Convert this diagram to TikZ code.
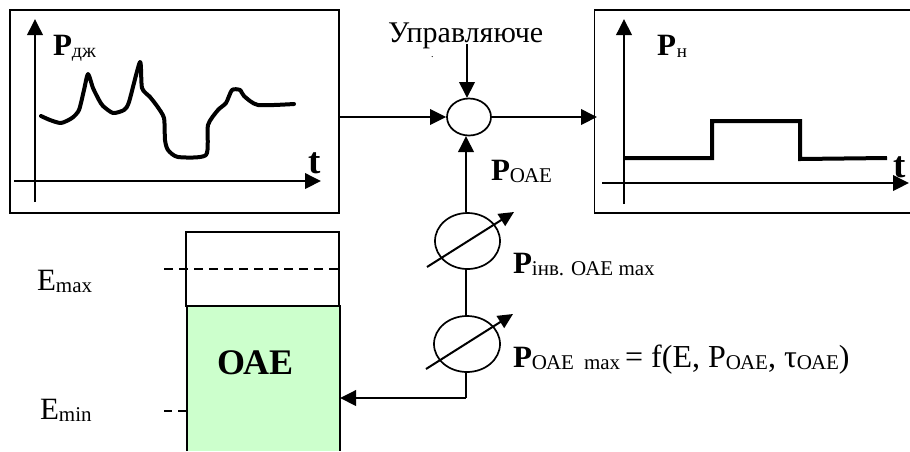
\documentclass[tikz,border=0pt]{standalone}
\usepackage{fontspec}
\setmainfont{Liberation Serif}
\usetikzlibrary{arrows.meta,shapes.geometric}
\definecolor{oaegreen}{HTML}{CCFFCC}
\newcommand{\fsz}[1]{\fontsize{#1}{#1}\selectfont}
\newcommand{\bigP}{{\fsz{31}\bfseries P}}
\newcommand{\sbs}[1]{{\fsz{21}\raisebox{-2pt}{#1}}}
\tikzset{
  frame/.style={draw=black,line width=1.7pt},
  axisline/.style={line width=2pt,-{Triangle[length=16pt,width=15.5pt]}},
  conn/.style={line width=2pt,-{Triangle[length=16pt,width=15.5pt]}},
  plain/.style={line width=1.8pt},
  trace/.style={line width=4pt,line join=round,line cap=round},
  knot/.style={draw,ellipse,line width=1.7pt,inner sep=0pt,fill=white},
  adjust/.style={line width=2pt,-{Triangle[length=15pt,width=14pt]}},
  txt/.style={anchor=base west,inner sep=0pt,outer sep=0pt},
  anchorpt/.style={inner sep=0pt,outer sep=0pt,minimum size=0pt}
}
\begin{document}
\begin{tikzpicture}[x=1pt,y=-1pt]
\useasboundingbox (0,0) rectangle (910,451);
% boxes
\node[anchorpt,frame,minimum width=329pt,minimum height=203pt,anchor=north west] (src) at (10,10) {};
\draw[frame] (910,10) -- (594.5,10) -- (594.5,213) -- (910,213);
\coordinate (loadin) at (597,117);
% left chart
\draw[axisline] (35,202) -- (35,19);
\draw[axisline] (14,181) -- (321,181);
\draw[trace] plot[smooth,tension=0.4] coordinates {(41,116) (50,120) (61,123) (72,118) (79,110) (84,90) (88,74) (93,88) (99,100) (103,106) (113,113) (124,110) (129,102) (140,62) (142,88) (150,97) (157,106) (164,118) (165,140) (168,150) (178,157) (206,155) (208,125) (218,110) (226,103) (232,90) (240,90) (244,96) (258,105) (294,104)};
\node[txt] (pdj) at (53,55) {\bigP\sbs{\fsz{20}дж}};
\node[txt] (t1) at (308,173) {\fsz{37}\bfseries t};
% right chart
\draw[axisline] (624,204) -- (624,19);
\draw[axisline] (602,183) -- (909,183);
\draw[line width=4pt,line join=miter] (624,158) -- (712,158) -- (712,121) -- (800,121) -- (800,159) -- (887,158);
\node[txt] (pn) at (657,55) {\bigP\kern 1pt\sbs{\fsz{19}н}};
\node[txt] (t2) at (893,177) {\fsz{37}\bfseries t};
% junction and regulators
\node[knot,minimum width=44pt,minimum height=37pt] (sum) at (469,117) {};
\node[knot,minimum width=65pt,minimum height=56pt] (inv) at (467.5,241) {};
\node[knot,minimum width=66pt,minimum height=56pt] (chg) at (467,344) {};
\node[txt] (ctl) at (388,42) {\fsz{30}Управляюче};
\node[txt] (dot) at (431,57) {\fsz{10}.};
\coordinate (ctlend) at (467,44);
\draw[conn] (ctlend) -- (467,98);
\draw[conn] (src.east |- sum.west) -- (sum.west);
\draw[conn] (sum.east) -- (loadin);
\draw[conn] (inv.north -| 466,0) -- (466,136);
\draw[plain] (466,269) -- (466,316);
% energy store
\node[draw,line width=1.7pt,anchor=north west,minimum width=153pt,minimum height=74pt,inner sep=0pt,outer sep=0pt] (top) at (186,232) {};
\fill[oaegreen] (187,306) rectangle (340,451);
\draw[line width=1.7pt] (187,451) -- (187,306) -- (340,306) -- (340,451);
\node[txt] (oae) at (217,374) {\fsz{36}\bfseries ОАЕ};
\coordinate (dmaxa) at (164,269);
\coordinate (dmaxb) at (339,269);
\coordinate (dmina) at (164,411);
\coordinate (dminb) at (187,411);
\draw[line width=1.5pt,dash pattern=on 9pt off 6pt] (dmaxa) -- (dmaxb);
\draw[line width=1.5pt,dash pattern=on 8pt off 6pt] (dmina) -- (dminb);
\node[txt] (emax) at (37,290) {\fsz{31}E\fsz{21}\raisebox{-2pt}{max}};
\node[txt] (emin) at (40,419) {\fsz{31}E\fsz{21}\raisebox{-2pt}{min}};
% return line
\coordinate (corner) at (466,398);
\draw[plain] (466,372) -- (corner);
\draw[conn] (corner) -- (340,398);
% adjust arrows
\coordinate (a1s) at (427,267);
\coordinate (a1e) at (514,212);
\coordinate (a2s) at (426,369);
\coordinate (a2e) at (513,314);
\draw[adjust] (a1s) -- (a1e);
\draw[adjust] (a2s) -- (a2e);
% labels
\node[txt] (lp) at (491,180) {\bigP\sbs{ОАЕ}};
\node[txt] (linv) at (513,273) {\bigP\sbs{інв. ОАЕ max}};
\node[txt] (lmax) at (513,367) {\bigP\sbs{ОАЕ\kern 10pt max}\kern 5pt{\fsz{32}= f(E, P}\sbs{ОАЕ}{\fsz{32}, τ}\sbs{ОАЕ}{\fsz{32})}};
\end{tikzpicture}
\end{document}
